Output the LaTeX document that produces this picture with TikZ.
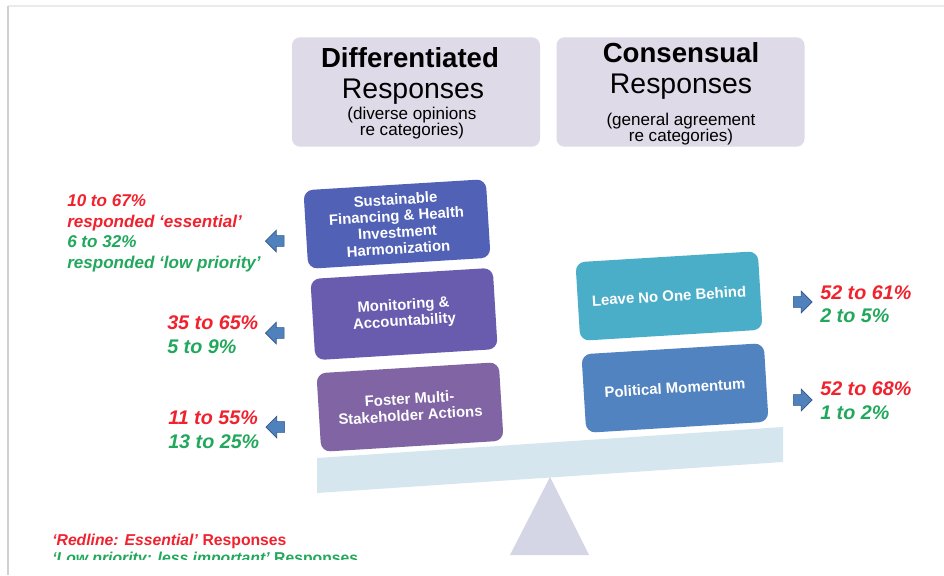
\documentclass[tikz,border=0pt]{standalone}
\usepackage{fontspec}
\setmainfont{Liberation Sans}
\usetikzlibrary{shapes.arrows}
\definecolor{hdrfill}{HTML}{DEDAE8}
\definecolor{cSust}{HTML}{5061B6}
\definecolor{cMon}{HTML}{695CAF}
\definecolor{cFos}{HTML}{8064A4}
\definecolor{cLeave}{HTML}{4BAEC8}
\definecolor{cPol}{HTML}{5083BF}
\definecolor{plank}{HTML}{D6E6EE}
\definecolor{fulcrum}{HTML}{D4D6E6}
\definecolor{arrblue}{HTML}{4F81BD}
\definecolor{arrdark}{HTML}{2F5487}
\definecolor{redc}{HTML}{F0222E}
\definecolor{greenc}{HTML}{22A85C}
\tikzset{
  hdrbox/.style={fill=hdrfill, rounded corners=6pt, minimum width=186pt, minimum height=82pt, inner sep=0pt},
  stackbox/.style={rounded corners=7pt, minimum width=137pt, minimum height=59pt, inner sep=0pt,
    text=white, align=center, font=\bfseries\fontsize{11.2}{12.3}\selectfont},
  barrow/.style={single arrow, fill=arrblue, draw=arrdark, line width=0.5pt, minimum height=14pt,
    inner xsep=0pt, inner ysep=3.8pt, single arrow head extend=4pt},
  txt/.style={anchor=base west, inner sep=0pt},
  redsm/.style={txt, text=redc, font=\bfseries\itshape\fontsize{12.8}{14}\selectfont},
  greensm/.style={txt, text=greenc, font=\bfseries\itshape\fontsize{12.8}{14}\selectfont},
  redbig/.style={txt, text=redc, font=\bfseries\itshape\fontsize{14.8}{16}\selectfont},
  greenbig/.style={txt, text=greenc, font=\bfseries\itshape\fontsize{14.8}{16}\selectfont},
  hbold/.style={anchor=base, inner sep=0pt, font=\bfseries\fontsize{20.7}{22}\selectfont},
  hreg/.style={anchor=base, inner sep=0pt, font=\fontsize{21.3}{22}\selectfont},
  hsmall/.style={anchor=base, inner sep=0pt, font=\fontsize{12.8}{14}\selectfont},
  legend/.style={anchor=base west, inner sep=0pt, font=\bfseries\fontsize{11.8}{13}\selectfont}
}
\begin{document}
\begin{tikzpicture}[x=0.75pt,y=-0.75pt]
\useasboundingbox (0,0) rectangle (944,575);
\fill[white] (0,0) rectangle (944,575);
% frame shadow
\draw[black!8, line width=1.5pt] (8,6) -- (944,6);
\draw[black!18, line width=1.8pt] (8,6) -- (8,575);

% header boxes
\node[hdrbox] (hL) at (416,92) {};
\node[hdrbox] (hR) at (680.5,92) {};
\node[hbold] (hL1) at (410,67) {Differentiated};
\node[hreg]  (hL2) at (413,98) {Responses};
\node[hsmall] (hL3) at (412,119) {(diverse opinions};
\node[hsmall] (hL4) at (412,135) {re categories)};
\node[hbold] (hR1) at (681,62) {Consensual};
\node[hreg]  (hR2) at (681,93) {Responses};
\node[hsmall] (hR3) at (681,125) {(general agreement};
\node[hsmall] (hR4) at (681,141) {re categories)};

% seesaw
\fill[fulcrum] (550,477) -- (589,555) -- (510,555) -- cycle;
\fill[plank] (317,458) -- (783,427) -- (783,462) -- (317,493) -- cycle;

% stacked boxes
\node[stackbox, fill=cSust, rotate=3.5] (b1) at (397,224) {Sustainable\\Financing \& Health\\Investment\\Harmonization};
\node[stackbox, fill=cMon, rotate=3.5, minimum height=61pt] (b2) at (404,314) {Monitoring \&\\Accountability};
\node[stackbox, fill=cFos, rotate=3.5] (b3) at (410,407) {Foster Multi-\\Stakeholder Actions};
\node[stackbox, fill=cLeave, rotate=3.5] (r1) at (669,296) {Leave No One Behind};
\node[stackbox, fill=cPol, rotate=3.5] (r2) at (675,388) {Political Momentum};

% arrows
\node[barrow, shape border rotate=180] (a1) at (277.5,241) {};
\node[barrow, shape border rotate=180] (a2) at (277.5,333) {};
\node[barrow, shape border rotate=180] (a3) at (278,427) {};
\node[barrow] (a4) at (800,302) {};
\node[barrow] (a5) at (800,400) {};

% left values
\node[redsm]   (t1) at (67,206) {10 to 67\%};
\node[redsm]   (t2) at (67,227) {responded ‘essential’};
\node[greensm] (t3) at (67,247) {6 to 32\%};
\node[greensm] (t4) at (67,268) {responded ‘low priority’};
\node[redbig]   (t5) at (167,329) {35 to 65\%};
\node[greenbig] (t6) at (167,353) {5 to 9\%};
\node[redbig]   (t7) at (168,424) {11 to 55\%};
\node[greenbig] (t8) at (168,448) {13 to 25\%};
% right values
\node[redbig]   (t9)  at (820,299) {52 to 61\%};
\node[greenbig] (t10) at (820,322) {2 to 5\%};
\node[redbig]   (t11) at (820,395) {52 to 68\%};
\node[greenbig] (t12) at (820,419) {1 to 2\%};

% legend (clipped at the bottom as in the reference)
\begin{scope}
\clip (0,0) rectangle (944,559);
\node[legend, text=redc] (l1) at (52,545) {\textit{‘Redline: Essential’} Responses};
\node[legend, text=greenc] (l2) at (52,563) {\textit{‘Low priority: less important’} Responses};
\end{scope}
\end{tikzpicture}
\end{document}
